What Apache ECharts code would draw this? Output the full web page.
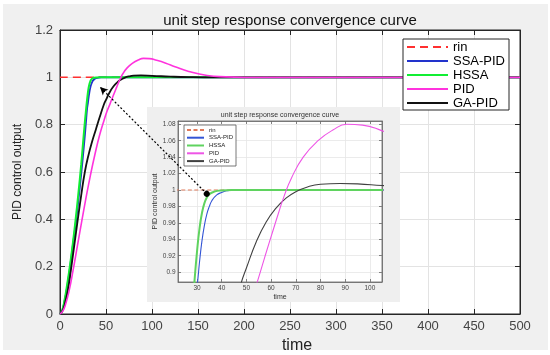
<!DOCTYPE html>
<html><head><meta charset="utf-8">
<script src="https://cdn.jsdelivr.net/npm/echarts@6/dist/echarts.min.js"></script>
<style>html,body{margin:0;padding:0;background:#fff;}#c{width:550px;height:355px;}</style>
</head><body><div id="c"></div>
<script>
// ---------- data ----------
const seriesNames = ['rin', 'SSA-PID', 'HSSA', 'PID', 'GA-PID'];
const mainXTicks = [0, 50, 100, 150, 200, 250, 300, 350, 400, 450, 500];
const mainYTicks = [0, 0.2, 0.4, 0.6, 0.8, 1, 1.2];
const insetXTicks = [30, 40, 50, 60, 70, 80, 90, 100];
const insetYTicks = [0.9, 0.92, 0.94, 0.96, 0.98, 1, 1.02, 1.04, 1.06, 1.08];

const rinData = [[0, 1], [500, 1]];
const ssaData = [[0,0],[2,0.01],[5,0.055],[8,0.12],[11,0.2],[14,0.29],[17,0.38],[20,0.48],[23,0.59],[26,0.71],[28,0.8],[29.5,0.87],[30.3,0.89],[31,0.912],[32,0.938],[33,0.957],[34,0.971],[35,0.98],[36,0.987],[38,0.994],[40,0.997],[42,0.999],[45,1.0],[500,1.0]];
const hssaData = [[0,0],[2,0.01],[5,0.06],[8,0.13],[11,0.21],[14,0.3],[17,0.4],[20,0.51],[23,0.63],[25,0.72],[27,0.81],[28,0.85],[29,0.89],[30,0.925],[31,0.953],[32,0.972],[33,0.984],[34,0.991],[35,0.995],[37,0.998],[40,0.9995],[44,1.0],[500,1.0]];
const pidData = [[0,0],[3,0.012],[6,0.04],[10,0.1],[14,0.18],[19,0.29],[24,0.4],[28,0.485],[33,0.585],[38,0.675],[43,0.755],[48,0.82],[51,0.856],[54.5,0.889],[57.5,0.919],[60.8,0.951],[63,0.972],[65.2,0.992],[68.3,1.015],[73,1.04],[79,1.06],[85,1.073],[90.7,1.08],[97,1.079],[105,1.072],[115,1.06],[125,1.045],[140,1.025],[160,1.008],[180,1.002],[200,1.0],[500,1.0]];
const gaData = [[0,0],[3,0.015],[6,0.055],[9,0.11],[12,0.19],[15,0.275],[19,0.39],[23,0.5],[27,0.6],[31,0.672],[35,0.73],[39,0.78],[43,0.83],[47.7,0.885],[50,0.905],[54,0.937],[58,0.961],[62,0.978],[66,0.99],[70,0.998],[75,1.004],[80,1.007],[88,1.008],[95,1.0075],[105,1.0055],[120,1.003],[140,1.001],[170,1.0],[500,1.0]];

// annotation arrow (main-axis data coordinates)
const arrowFrom = [159.5, 0.508];
const arrowTo = [43.5, 0.959];

// ---------- chart ----------
const FONT = 'Liberation Sans, Arial, Helvetica, sans-serif';
const AX = '#262626';
const chart = echarts.init(document.getElementById('c'), null, {renderer: 'canvas'});

function line(name, data, color, width, dash, xi, yi, z, extra) {
  return Object.assign({
    name, type: 'line', data, xAxisIndex: xi, yAxisIndex: yi,
    symbol: 'none', smooth: 0.5, z, animation: false, clip: true,
    lineStyle: {color, width, type: dash || 'solid'},
    itemStyle: {color}
  }, extra || {});
}

const mainAxisCommon = {
  type: 'value',
  axisLine: {show: true, onZero: false, lineStyle: {color: AX, width: 1}},
  axisTick: {show: true, inside: true, length: 5, lineStyle: {color: AX}},
};
const insetAxisCommon = {
  type: 'value', gridIndex: 1, z: 5,
  axisLine: {show: true, onZero: false, lineStyle: {color: '#666', width: 0.8}},
  axisTick: {show: true, inside: true, length: 3, lineStyle: {color: '#666', width: 0.8}},
};
const fmt = v => String(+(+v).toFixed(2));

const option = {
  backgroundColor: '#fff',
  animation: false,
  textStyle: {fontFamily: FONT},
  graphic: [
    {type: 'rect', shape: {x: 3, y: 4, width: 545, height: 346}, style: {fill: '#f0f0f0'}, z: -10, silent: true},
    {type: 'rect', shape: {x: 147, y: 107, width: 253, height: 195}, style: {fill: '#efefef'}, z: 3, silent: true}
  ],
  title: [
    {text: 'unit step response convergence curve', left: 290, top: 13, textAlign: 'center', padding: 0,
     textStyle: {fontSize: 15, fontWeight: 'normal', color: '#111', fontFamily: FONT}},
    {text: 'unit step response convergence curve', left: 280, top: 112, textAlign: 'center', padding: 0, z: 6,
     textStyle: {fontSize: 7, fontWeight: 'normal', color: '#333', fontFamily: FONT}}
  ],
  legend: [
    {data: seriesNames, orient: 'vertical', left: 403, top: 39, padding: [1, 4, 0, 3],
     itemWidth: 41, itemHeight: 10, itemGap: 0, backgroundColor: '#fff', borderColor: AX, borderWidth: 1,
     itemStyle: {opacity: 0}, z: 10,
     textStyle: {fontSize: 13, color: '#000', lineHeight: 14, fontFamily: FONT}},
    {data: seriesNames.map(n => n + ' (inset)'), orient: 'vertical', left: 184, top: 125, padding: [1, 3, 1, 2],
     itemWidth: 17, itemHeight: 5, itemGap: 0, backgroundColor: '#fff', borderColor: '#555', borderWidth: 0.8,
     itemStyle: {opacity: 0}, z: 12, formatter: n => n.replace(' (inset)', ''),
     textStyle: {fontSize: 6, color: '#222', lineHeight: 7.8, fontFamily: FONT}}
  ],
  grid: [
    {left: 60, top: 30, width: 460, height: 284, show: true, backgroundColor: '#fff', borderColor: AX, borderWidth: 1, outerBoundsMode: 'none', containLabel: false},
    {left: 178, top: 121, width: 204, height: 161, show: true, backgroundColor: '#fff', borderColor: '#666', borderWidth: 0.8, z: 4, outerBoundsMode: 'none', containLabel: false}
  ],
  xAxis: [
    Object.assign({}, mainAxisCommon, {gridIndex: 0, position: 'bottom', min: 0, max: 500, interval: 50,
      axisLabel: {fontSize: 13, color: '#444', margin: 6, fontFamily: FONT},
      splitLine: {show: true, lineStyle: {color: '#e3e3e3', width: 1}},
      name: 'time', nameLocation: 'middle', nameGap: 19,
      nameTextStyle: {fontSize: 16, color: '#222', fontFamily: FONT, padding: [0, 0, 0, 14]}}),
    Object.assign({}, mainAxisCommon, {gridIndex: 0, position: 'top', min: 0, max: 500, interval: 50,
      axisLabel: {show: false}, splitLine: {show: false}}),
    Object.assign({}, insetAxisCommon, {position: 'bottom', min: 22.3, max: 104.9,
      axisTick: Object.assign({}, insetAxisCommon.axisTick, {customValues: insetXTicks}),
      axisLabel: {customValues: insetXTicks, fontSize: 6.5, color: '#444', margin: 3, fontFamily: FONT},
      splitLine: {show: true, lineStyle: {color: '#e6e6e6', width: 0.8}},
      name: 'time', nameLocation: 'middle', nameGap: 12,
      nameTextStyle: {fontSize: 7, color: '#333', fontFamily: FONT}}),
    Object.assign({}, insetAxisCommon, {position: 'top', min: 22.3, max: 104.9,
      axisTick: Object.assign({}, insetAxisCommon.axisTick, {customValues: insetXTicks}),
      axisLabel: {show: false}, splitLine: {show: false}})
  ],
  yAxis: [
    Object.assign({}, mainAxisCommon, {gridIndex: 0, position: 'left', min: 0, max: 1.2, interval: 0.2,
      axisLabel: {fontSize: 13, color: '#444', margin: 7, formatter: fmt, fontFamily: FONT},
      splitLine: {show: true, lineStyle: {color: '#e3e3e3', width: 1}},
      name: 'PID control output', nameLocation: 'middle', nameGap: 32,
      nameTextStyle: {fontSize: 12, color: '#222', fontFamily: FONT}}),
    Object.assign({}, mainAxisCommon, {gridIndex: 0, position: 'right', min: 0, max: 1.2, interval: 0.2,
      axisLabel: {show: false}, splitLine: {show: false}}),
    Object.assign({}, insetAxisCommon, {position: 'left', min: 0.888, max: 1.084,
      axisTick: Object.assign({}, insetAxisCommon.axisTick, {customValues: insetYTicks}),
      axisLabel: {customValues: insetYTicks, fontSize: 6.5, color: '#444', margin: 2.5, formatter: fmt, fontFamily: FONT},
      splitLine: {show: true, lineStyle: {color: '#e6e6e6', width: 0.8}},
      name: 'PID control output', nameLocation: 'middle', nameGap: 16,
      nameTextStyle: {fontSize: 7, color: '#333', fontFamily: FONT}}),
    Object.assign({}, insetAxisCommon, {position: 'right', min: 0.888, max: 1.084,
      axisTick: Object.assign({}, insetAxisCommon.axisTick, {customValues: insetYTicks}),
      axisLabel: {show: false}, splitLine: {show: false}})
  ],
  series: [
    line('rin', rinData, '#ff3030', 1.5, [8, 5], 0, 0, 2, {
      markLine: {
        silent: true, z: 20, animation: false,
        symbol: ['circle', 'arrow'], symbolSize: [6, 8],
        label: {show: false},
        lineStyle: {color: '#000', type: [2, 2], width: 1.2},
        data: [[{coord: arrowFrom}, {coord: arrowTo}]]
      }
    }),
    line('SSA-PID', ssaData, '#2233cc', 1.8, null, 0, 0, 2),
    line('HSSA', hssaData, '#11ee33', 2, null, 0, 0, 2),
    line('GA-PID', gaData, '#111111', 1.8, null, 0, 0, 2),
    line('PID', pidData, '#ff33dd', 1.6, null, 0, 0, 2),

    line('rin (inset)', rinData, '#e07a5a', 1.1, [4, 2.5], 2, 2, 6),
    line('SSA-PID (inset)', ssaData, '#3355d5', 1.1, null, 2, 2, 6),
    line('HSSA (inset)', hssaData, '#5fd35f', 2, null, 2, 2, 6),
    line('GA-PID (inset)', gaData, '#404040', 1.1, null, 2, 2, 6),
    line('PID (inset)', pidData, '#ee55e6', 1.1, null, 2, 2, 6)
  ]
};
chart.setOption(option);
</script></body></html>
